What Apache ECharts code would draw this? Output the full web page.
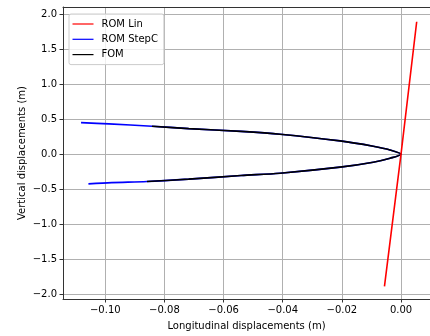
<!DOCTYPE html>
<html><head><meta charset="utf-8">
<script src="https://cdn.jsdelivr.net/npm/echarts@6/dist/echarts.min.js"></script>
<style>html,body{margin:0;padding:0;background:#fff}#c{width:430px;height:336px}</style>
</head><body><div id="c"></div>
<script>
// ROM Lin (red)
const romLinX = [-0.0056, 0.0, 0.0053];
const romLinY = [-1.886, 0.0, 1.890];
// ROM StepC (blue)
const stepCX = [-0.1082, -0.0988, -0.0842, -0.0718, -0.0541, -0.0409, -0.0206, -0.0094, -0.0037, 0.0, -0.0037, -0.0094, -0.0206, -0.0409, -0.0541, -0.0718, -0.0859, -0.0978, -0.1057];
const stepCY = [0.450, 0.432, 0.399, 0.365, 0.325, 0.285, 0.190, 0.114, 0.061, 0.0, -0.057, -0.114, -0.185, -0.271, -0.304, -0.356, -0.390, -0.405, -0.423];
// FOM (black)
const fomX = [-0.0842, -0.0718, -0.0541, -0.0409, -0.0206, -0.0094, -0.0037, 0.0, -0.0037, -0.0094, -0.0206, -0.0409, -0.0541, -0.0718, -0.0859];
const fomY = [0.399, 0.365, 0.325, 0.285, 0.190, 0.114, 0.061, 0.0, -0.057, -0.114, -0.185, -0.271, -0.304, -0.356, -0.390];
// ticks
const xTicks = [-0.10, -0.08, -0.06, -0.04, -0.02, 0.00];
const yTicks = [-2.0, -1.5, -1.0, -0.5, 0.0, 0.5, 1.0, 1.5, 2.0];
const seriesNames = ['ROM Lin', 'ROM StepC', 'FOM'];

const zip = (xs, ys) => xs.map((x, i) => [x, ys[i]]);
const fmt = (v, d) => v.toFixed(d).replace('-', '\u2212');
const font = 'DejaVu Sans';
const X_MIN = -0.1143, X_MAX = 0.0098;

const chart = echarts.init(document.getElementById('c'), null, {renderer: 'canvas'});
chart.setOption({
  animation: false,
  backgroundColor: '#fff',
  grid: {left: 63, top: 7, bottom: 36.5, right: 0, containLabel: false},
  legend: {
    orient: 'vertical', left: 69, top: 14,
    data: seriesNames.map(n => ({name: n, icon: 'rect'})),
    itemWidth: 21, itemHeight: 1.2, itemGap: 3.3,
    padding: [4, 6, 4, 3.5],
    backgroundColor: 'rgba(255,255,255,0.8)',
    borderColor: '#cccccc', borderWidth: 1, borderRadius: 2,
    textStyle: {fontFamily: font, fontSize: 10, color: '#000', lineHeight: 12, padding: [0, 0, 0, 3]}
  },
  xAxis: [{
    type: 'value', min: X_MIN, max: X_MAX,
    name: 'Longitudinal displacements (m)', nameLocation: 'middle', nameGap: 22, nameMoveOverlap: false,
    nameTextStyle: {fontFamily: font, fontSize: 10, color: '#000'},
    axisLine: {show: true, onZero: false, lineStyle: {color: '#333', width: 1}},
    axisTick: {show: true, length: 3.5, customValues: xTicks, lineStyle: {color: '#333'}},
    axisLabel: {customValues: xTicks, fontFamily: font, fontSize: 10, color: '#000', margin: 6,
      formatter: v => fmt(v, 2)},
    splitLine: {show: true, lineStyle: {color: '#b0b0b0', width: 1}}
  }, {
    type: 'value', min: X_MIN, max: X_MAX, position: 'top',
    axisLine: {show: true, onZero: false, lineStyle: {color: '#333', width: 1}},
    axisTick: {show: false}, axisLabel: {show: false}, splitLine: {show: false}
  }],
  yAxis: {
    type: 'value', min: -2.066, max: 2.1,
    name: 'Vertical displacements (m)', nameLocation: 'middle', nameGap: 36, nameRotate: 90, nameMoveOverlap: false,
    nameTextStyle: {fontFamily: font, fontSize: 10, color: '#000'},
    axisLine: {show: true, onZero: false, lineStyle: {color: '#333', width: 1}},
    axisTick: {show: true, length: 3.5, customValues: yTicks, lineStyle: {color: '#333'}},
    axisLabel: {customValues: yTicks, fontFamily: font, fontSize: 10, color: '#000', margin: 6,
      formatter: v => fmt(v, 1)},
    splitLine: {show: true, lineStyle: {color: '#b0b0b0', width: 1}}
  },
  series: [
    {name: seriesNames[0], type: 'line', data: zip(romLinX, romLinY), symbol: 'none',
     lineStyle: {color: '#ff0000', width: 1.6}, itemStyle: {color: '#ff0000'}, z: 3},
    {name: seriesNames[1], type: 'line', data: zip(stepCX, stepCY), symbol: 'none', smooth: 0.3,
     lineStyle: {color: '#0000ff', width: 1.6}, itemStyle: {color: '#0000ff'}, z: 1},
    {name: seriesNames[2], type: 'line', data: zip(fomX, fomY), symbol: 'none', smooth: 0.3,
     lineStyle: {color: '#000000', width: 1.6}, itemStyle: {color: '#000000'}, z: 2}
  ]
});
</script></body></html>
